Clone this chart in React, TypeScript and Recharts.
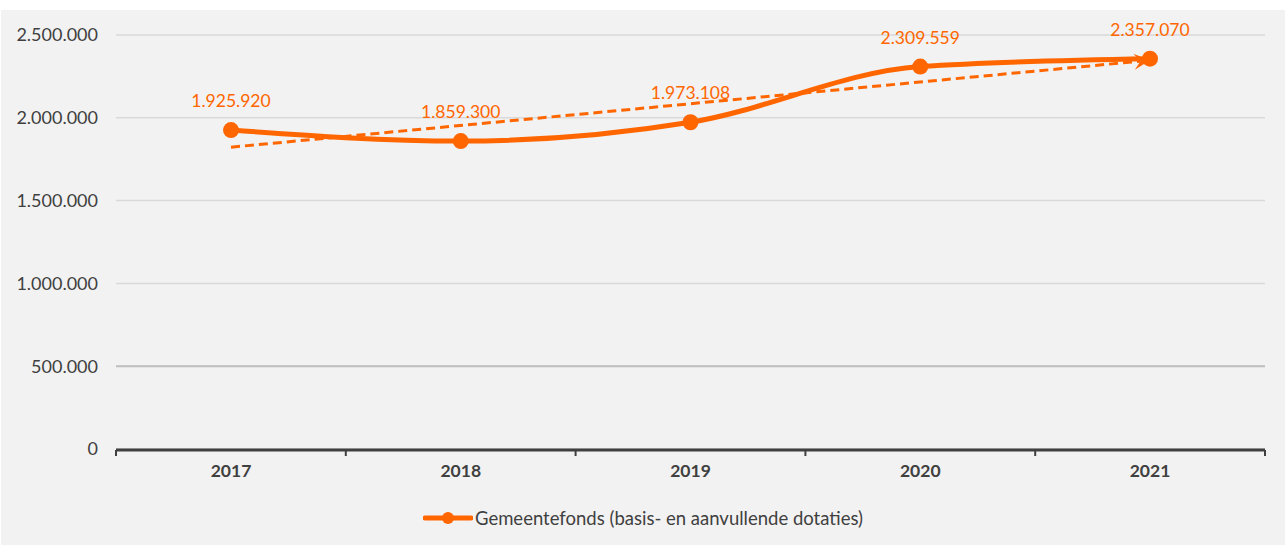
import {
  LineChart,
  Line,
  XAxis,
  YAxis,
  CartesianGrid,
  ReferenceLine,
  Legend,
  LabelList,
} from 'recharts';

const years = ['2017', '2018', '2019', '2020', '2021'];
const gemeentefonds = [1925920, 1859300, 1973108, 2309559, 2357070];
const yTicks = [0, 500000, 1000000, 1500000, 2000000, 2500000];
// linear trend (start and end)
const trendEnds = [1822480, 2347503];
const edgeTicks = [0, 1, 2, 3, 4, 5];

const seriesName = 'Gemeentefonds (basis- en aanvullende dotaties)';
const ORANGE = '#ff6600';
const DARK = '#404040';
const FONT = 'Lato, Calibri, sans-serif';

// slot = middle of each category's band, used only by the tick-mark axis
const data = years.map((year, i) => ({ year, slot: i + 0.5, value: gemeentefonds[i] }));

const fmt = (v: number) =>
  String(Math.round(v)).replace(/\B(?=(\d{3})+(?!\d))/g, '.');

const TrendArrow = (props: any) => {
  const { x1, y1, x2, y2 } = props;
  const ang = Math.atan2(y2 - y1, x2 - x1);
  const len = 16;
  const wing = 8;
  const bx = x2 - len * Math.cos(ang);
  const by = y2 - len * Math.sin(ang);
  const nx = -Math.sin(ang);
  const ny = Math.cos(ang);
  const mx = x2 - len * 0.6 * Math.cos(ang);
  const my = y2 - len * 0.6 * Math.sin(ang);
  return (
    <g>
      <line
        x1={x1}
        y1={y1}
        x2={mx}
        y2={my}
        stroke={ORANGE}
        strokeWidth={3}
        strokeDasharray="9 5"
      />
      <path
        d={`M${x2},${y2} L${bx + nx * wing},${by + ny * wing} L${mx},${my} L${bx - nx * wing},${by - ny * wing} Z`}
        fill={ORANGE}
      />
    </g>
  );
};

const LegendContent = () => (
  <div
    style={{
      display: 'flex',
      justifyContent: 'center',
      alignItems: 'center',
      fontFamily: FONT,
      fontSize: 18.5,
      color: DARK,
      paddingLeft: 20,
    }}
  >
    <svg width={50} height={16} style={{ marginRight: 2 }}>
      <line x1={2} y1={8} x2={48} y2={8} stroke={ORANGE} strokeWidth={5} strokeLinecap="round" />
      <circle cx={25} cy={8} r={6} fill={ORANGE} />
    </svg>
    <span>{seriesName}</span>
  </div>
);

export default function App() {
  return (
    <div
      style={{
        position: 'absolute',
        left: 0,
        top: 0,
        width: 1285,
        height: 546,
        background: '#ffffff',
      }}
    >
      <div
        style={{
          position: 'absolute',
          left: 1,
          top: 10,
          width: 1284,
          height: 535,
          background: '#f2f2f2',
        }}
      >
        <LineChart
          width={1284}
          height={535}
          data={data}
          margin={{ top: 25, right: 20, left: 0, bottom: 12 }}
        >
          <CartesianGrid vertical={false} stroke="#d9d9d9" strokeWidth={1.5} />
          <ReferenceLine y={500000} stroke="#bfbfbf" strokeWidth={2} />
          <XAxis
            dataKey="year"
            padding={{ left: 115, right: 115 }}
            axisLine={false}
            tickLine={false}
            height={1}
            tickMargin={10}
            tick={{ fill: DARK, fontSize: 17.5, fontWeight: 700, fontFamily: FONT }}
          />
          <XAxis
            xAxisId="edges"
            dataKey="slot"
            type="number"
            domain={[0, 5]}
            ticks={edgeTicks}
            interval={0}
            allowDataOverflow
            height={43}
            tick={() => <g />}
            axisLine={{ stroke: DARK, strokeWidth: 3 }}
            tickLine={{ stroke: DARK, strokeWidth: 2 }}
            tickSize={6}
          />
          <YAxis
            domain={[0, 2500000]}
            ticks={yTicks}
            width={115}
            axisLine={false}
            tickLine={false}
            tickMargin={12}
            tickFormatter={fmt}
            tick={{ fill: DARK, fontSize: 18, fontFamily: FONT }}
          />
          <ReferenceLine
            segment={[
              { x: years[0], y: trendEnds[0] },
              { x: years[years.length - 1], y: trendEnds[1] },
            ]}
            ifOverflow="visible"
            shape={TrendArrow}
          />
          <Line
            type="monotone"
            dataKey="value"
            name={seriesName}
            stroke={ORANGE}
            strokeWidth={5}
            dot={{ r: 8, fill: ORANGE, stroke: ORANGE, strokeWidth: 0 }}
            activeDot={false}
            isAnimationActive={false}
          >
            <LabelList
              dataKey="value"
              position="top"
              offset={23}
              formatter={(v: any) => fmt(Number(v))}
              style={{ fill: ORANGE, fontSize: 17.5, fontFamily: FONT }}
            />
          </Line>
          <Legend
            verticalAlign="bottom"
            height={40}
            wrapperStyle={{ bottom: -2 }}
            content={<LegendContent />}
          />
        </LineChart>
      </div>
    </div>
  );
}
